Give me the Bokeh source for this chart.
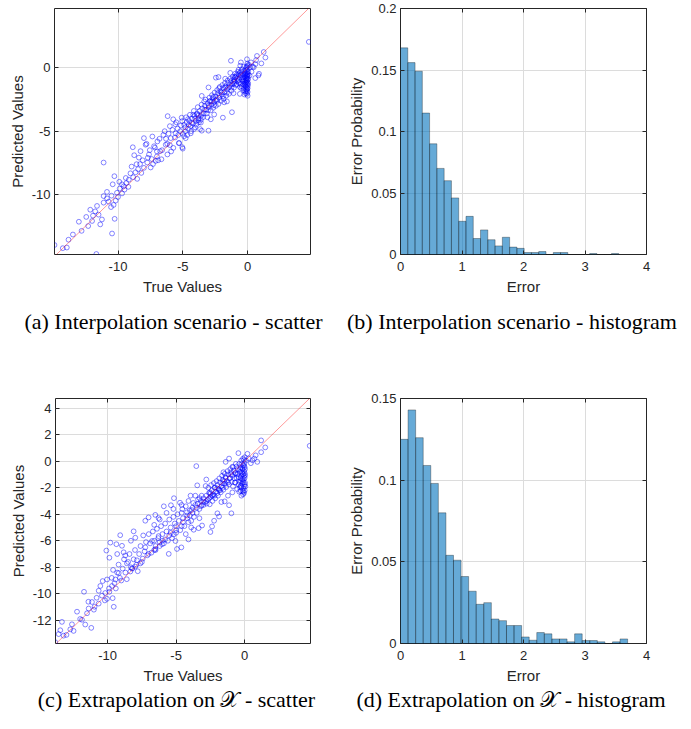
from bokeh.plotting import figure
from bokeh.layouts import column, row
from bokeh.models import Div, FixedTicker, LinearAxis, Slope, CustomJSTickFormatter
from bokeh.embed import file_html
from bokeh.resources import INLINE

# ---------------- data ----------------
# (a) interpolation scatter: (true value, predicted value)
points_a = [
    (4.72, 2.06), (1.24, 1.26), (1.37, 0.82), (1.06, 0.36), (0.72, 0.95), (0.65, 0.62), (0.88, -0.46),
    (0.59, -0.8), (0.83, -0.59), (0.47, 0.05), (0.26, 0.44), (0.39, 0.1), (0.3, -0.3), (0.15, -0.6),
    (0.2, 0.05), (0.6, 0.3), (0.1, 0.25), (-0.05, 0.69), (-0.52, 0.44), (-0.57, 0.18), (-1.29, 0.57),
    (-0.02, 0.35), (-0.05, 0.1), (0.0, -0.1), (-0.1, -0.2), (-0.03, -0.35), (-0.15, -0.4), (0.02, -0.5),
    (-0.08, -0.6), (-0.2, -0.55), (0.0, -0.7), (-0.05, -0.8), (-0.12, -0.85), (-0.25, -0.7), (0.01, -0.95),
    (-0.07, -1.05), (-0.18, -1.0), (-0.3, -0.9), (0.0, -1.15), (-0.1, -1.2), (-0.04, -1.3), (-0.22, -1.25),
    (0.02, -1.4), (-0.08, -1.5), (-0.15, -1.45), (0.0, -1.6), (-0.05, -1.75), (-0.12, -1.7), (0.0, -1.9),
    (-0.05, -2.05), (0.0, -2.2), (-0.2, -1.85), (-0.28, -1.6), (-0.35, -1.3), (-0.4, -1.05), (-0.02, 0.2),
    (-0.1, 0.05), (-0.25, -0.25), (-0.35, -0.5), (-0.18, -1.36), (-0.5, -1.6), (-0.6, -2.05),
    (-0.3, 0.1), (-0.45, -0.1), (-0.6, -0.35), (-0.15, -0.1), (-0.38, -0.75), (-0.48, -0.55),
    (-0.68, -0.95), (-0.55, -1.25), (-0.75, -1.05), (-0.9, -1.35), (-0.32, -1.75), (-0.45, -1.45),
    (-0.6, -1.5), (-0.15, -2.0), (-0.25, -2.1), (-0.1, -1.85), (-0.22, -0.45), (-0.06, -0.48),
    (-0.14, -0.72), (-0.09, -0.95), (-0.16, -1.15), (-0.28, -1.05), (-0.03, -1.62), (-0.02, -0.6),
    (0.05, -0.3), (0.03, -0.85), (0.04, -1.25), (-0.7, -0.15), (-0.85, -0.55), (-1.0, -0.7),
    (-0.5, -0.3), (-0.6, -0.75), (-0.7, -0.5), (-0.8, -0.85), (-0.9, -0.7), (-1.0, -1.1), (-1.1, -0.9),
    (-1.2, -1.3), (-1.3, -1.05), (-1.4, -1.5), (-1.5, -1.2), (-1.6, -1.7), (-1.7, -1.45), (-1.8, -1.9),
    (-1.9, -1.6), (-2.0, -2.1), (-2.1, -1.85), (-2.2, -2.35), (-2.3, -2.0), (-2.4, -2.5), (-2.5, -2.25),
    (-2.6, -2.7), (-2.7, -2.4), (-2.8, -2.9), (-2.9, -2.6), (-3.0, -3.1), (-0.45, -0.9), (-0.65, -1.2),
    (-0.85, -1.3), (-1.05, -1.55), (-1.25, -1.8), (-1.45, -2.05), (-1.65, -2.2), (-1.85, -2.45),
    (-2.05, -2.6), (-2.25, -2.85), (-2.45, -3.0), (-2.65, -3.15), (-2.85, -3.35), (-0.75, -0.3),
    (-0.95, -0.45), (-1.15, -0.7), (-1.35, -0.85), (-1.55, -1.0), (-1.75, -1.2), (-1.95, -1.35),
    (-2.15, -1.5), (-2.35, -1.75), (-2.55, -1.95), (-2.75, -2.15), (-2.95, -2.35), (-0.55, -0.55),
    (-1.0, -0.95), (-1.5, -1.55), (-2.0, -1.95), (-2.5, -2.55), (-3.0, -2.95), (-1.09, -1.1),
    (-1.34, -0.39), (-1.73, -0.85), (-2.25, -0.72), (-2.45, -0.77), (-1.09, -2.0), (-1.21, -3.5),
    (-1.91, -3.93), (-1.6, -2.65), (-1.81, -2.72), (-3.02, -1.54), (-3.54, -2.21),
    (-1.05, -1.25), (-1.35, -1.35), (-1.6, -1.95), (-1.9, -2.25), (-2.15, -2.15), (-2.35, -2.6),
    (-2.6, -2.95), (-2.75, -2.65), (-3.05, -3.35), (-3.3, -3.3), (-3.55, -3.65), (-3.8, -3.75),
    (-4.05, -4.0), (-4.3, -4.35), (-4.55, -4.5), (-4.8, -4.7), (-3.1, -3.9), (-3.6, -4.1), (-4.2, -3.7),
    (-4.6, -4.05), (-3.35, -2.65), (-2.2, -1.6), (-1.75, -1.55), (-1.25, -1.55), (-0.95, -0.75),
    (-2.65, -2.3), (-3.95, -4.45), (-4.9, -5.4), (-5.15, -4.55), (-5.35, -5.3),
    (-3.1, -2.8), (-3.2, -3.3), (-3.3, -3.0), (-3.4, -3.6), (-3.5, -3.2), (-3.6, -3.8), (-3.7, -3.4),
    (-3.8, -4.0), (-3.9, -3.6), (-4.0, -4.2), (-4.1, -3.8), (-4.2, -4.4), (-4.3, -4.0), (-4.4, -4.6),
    (-4.5, -4.2), (-4.6, -4.8), (-4.7, -4.3), (-4.8, -5.0), (-4.9, -4.5), (-5.0, -5.2), (-3.15, -3.6),
    (-3.45, -3.9), (-3.75, -4.3), (-4.05, -4.7), (-4.35, -5.0), (-4.65, -5.3), (-3.25, -2.5),
    (-3.55, -2.9), (-3.85, -3.1), (-4.15, -3.4), (-4.45, -3.7), (-4.75, -3.9), (-5.05, -4.2),
    (-3.02, -4.96), (-3.54, -4.96), (-3.67, -4.83), (-3.93, -3.68), (-3.8, -4.14), (-2.84, -4.06),
    (-2.58, -3.68), (-3.61, -4.32), (-4.13, -4.83), (-5.09, -3.93), (-5.74, -4.06), (-6.17, -3.81),
    (-5.58, -4.45), (-5.01, -6.38), (-2.9, -2.65),
    (-5.2, -5.0), (-5.3, -5.94), (-5.4, -4.8), (-5.55, -5.17), (-5.6, -5.5), (-5.73, -6.32), (-5.8, -4.9),
    (-5.93, -5.55), (-6.0, -6.1), (-6.1, -5.2), (-6.19, -6.84), (-6.32, -6.07), (-6.4, -5.0), (-6.5, -5.3),
    (-6.6, -6.5), (-6.65, -7.22), (-6.75, -6.58), (-6.8, -5.6), (-6.96, -5.81), (-7.0, -7.0), (-7.09, -7.35),
    (-7.15, -6.3), (-7.22, -6.19), (-7.35, -5.42), (-7.4, -7.2), (-7.48, -7.87), (-7.55, -6.5), (-7.61, -6.84),
    (-7.74, -7.48), (-7.8, -6.0), (-7.87, -6.07), (-8.0, -5.55), (-8.0, -7.9), (-8.1, -7.3), (-8.2, -8.3),
    (-8.26, -6.58), (-8.39, -7.09), (-8.45, -8.0), (-8.52, -8.77), (-8.57, -7.61), (-8.65, -8.25),
    (-8.75, -6.9), (-8.83, -8.64), (-8.86, -6.27), (-8.95, -7.8), (-9.04, -8.33), (-9.17, -8.84),
    (-5.29, -5.94), (-4.78, -5.55), (-4.39, -5.17), (-5.04, -6.27), (-6.0, -4.6), (-5.5, -4.3),
    (-6.3, -5.6), (-7.0, -6.6), (-7.7, -7.1), (-8.3, -7.6), (-6.9, -7.3), (-6.2, -6.0), (-5.9, -6.6),
    (-7.3, -7.6),
    (-9.35, -9.1), (-9.5, -9.62), (-9.56, -9.36), (-9.69, -9.92), (-9.87, -9.54), (-10.08, -9.87),
    (-10.18, -10.49), (-10.34, -10.83), (-10.54, -11.0), (-10.72, -10.57), (-10.85, -10.31),
    (-10.85, -9.8), (-11.11, -10.13), (-11.11, -10.65), (-9.2, -9.4), (-9.7, -9.2), (-10.0, -10.2),
    (-10.5, -10.1), (-9.4, -8.7), (-9.9, -9.0), (-11.11, -7.48), (-10.28, -8.56), (-10.41, -9.2),
    (-10.46, -13.09), (-10.26, -11.93),
    (-11.24, -11.98), (-11.37, -12.37), (-11.62, -10.91), (-11.76, -11.34), (-11.93, -11.68),
    (-12.14, -11.21), (-12.45, -11.78), (-12.81, -12.88), (-13.02, -12.16), (-13.48, -13.17),
    (-13.82, -13.58), (-13.95, -14.2), (-14.26, -14.25), (-14.9, -14.0), (-11.67, -14.71),
    (-11.5, -11.6), (-12.0, -12.1), (-12.3, -12.5),
]

# (c) extrapolation scatter: (true value, predicted value)
points_c = [
    (4.74, 1.16), (1.2, 1.57), (1.5, 1.04), (1.2, 0.68), (0.8, 0.44), (0.56, 0.07), (0.92, -0.05),
    (0.2, 0.56), (-0.46, 0.61), (-1.14, 0.2), (-1.39, -0.05), (-0.9, -0.42), (-3.53, -0.37),
    (-1.55, -0.83), (-1.39, -1.26), (-0.7, -1.62), (-0.29, -1.87), (-0.24, -2.6), (-0.29, -2.23),
    (-0.9, -2.35), (-1.22, -2.6), (-1.7, -3.08), (-1.87, -2.18), (-2.8, -1.38), (-2.85, -1.87),
    (-3.14, -2.6), (-3.46, -1.82), (-2.33, -2.6), (-1.14, -3.32), (-0.97, -3.93), (-1.46, -3.03),
    (-1.99, -3.93), (-1.87, -4.17), (-2.23, -4.49), (-3.95, -2.6), (-5.16, -2.79), (-5.38, -3.32),
    (-4.72, -3.13), (-4.55, -3.61), (-4.21, -3.85), (-3.87, -3.68), (-3.75, -3.15), (-3.14, -3.32),
    (-2.77, -3.2), (-3.29, -2.79), (-2.53, -2.35), (-2.16, -1.99), (-1.63, -1.67), (-1.07, -1.26),
    (-0.66, -0.9), (-0.17, -0.53), (-0.05, -1.14), (0.02, -1.62), (-6.52, -4.05), (-6.28, -4.29),
    (-7.01, -4.24), (-7.25, -4.49),
    (0.0, 0.3), (-0.05, 0.1), (-0.02, -0.15), (-0.1, -0.3), (0.0, -0.45), (-0.15, -0.6), (-0.05, -0.75),
    (0.0, -0.9), (-0.2, -0.85), (-0.1, -1.0), (-0.25, -1.1), (0.0, -1.25), (-0.08, -1.35), (-0.3, -1.3),
    (-0.15, -1.5), (0.0, -1.75), (-0.05, -1.9), (-0.2, -1.7), (-0.1, -2.05), (0.0, -2.2), (-0.05, -2.4),
    (-0.35, -1.95), (-0.4, -1.55), (-0.45, -1.2), (-0.35, -0.8), (-0.3, -0.45), (-0.12, 0.2),
    (-0.25, 0.05), (-0.4, -0.2), (0.3, 0.2), (0.45, -0.15), (0.7, 0.2), (0.1, 0.05), (-0.15, -2.25),
    (-0.2, -0.2), (-0.35, -0.6), (-0.5, -0.95), (-0.6, -1.25), (-0.2, -1.35), (-0.1, -1.6), (-0.25, -1.95),
    (-0.08, -2.3), (0.02, -0.6), (0.03, -1.05), (-0.45, -1.75), (-0.55, -2.1), (-0.7, -1.6), (-0.85, -1.9),
    (-0.15, -0.95), (-0.3, -1.5), (-0.05, -0.35), (0.05, -1.9), (-0.12, -2.5), (-0.4, -2.3),
    (-0.5, -0.6), (-0.6, -0.4), (-0.7, -0.9), (-0.8, -0.7), (-0.9, -1.1), (-1.0, -0.85), (-1.1, -1.3),
    (-1.2, -1.0), (-1.3, -1.5), (-1.4, -1.2), (-1.5, -1.7), (-1.6, -1.4), (-1.7, -1.9), (-1.8, -1.6),
    (-1.9, -2.1), (-2.0, -1.8), (-2.1, -2.3), (-2.2, -2.0), (-2.3, -2.5), (-2.4, -2.2), (-2.5, -2.7),
    (-2.6, -2.4), (-2.7, -2.9), (-2.8, -2.6), (-2.9, -3.1), (-3.0, -2.8), (-0.55, -1.0), (-0.75, -1.3),
    (-0.95, -1.55), (-1.15, -1.75), (-1.35, -1.95), (-1.55, -2.15), (-1.75, -2.35), (-1.95, -2.6),
    (-2.15, -2.8), (-2.35, -3.0), (-2.55, -3.25), (-0.65, -0.2), (-0.85, -0.45), (-1.05, -0.6),
    (-1.25, -0.75), (-1.45, -0.95), (-1.65, -1.1), (-1.85, -1.3), (-2.05, -1.5), (-2.25, -1.65),
    (-2.45, -1.8), (-2.65, -2.0), (-1.0, -1.0), (-1.5, -1.5), (-2.0, -2.05), (-2.5, -2.45), (-3.0, -3.05),
    (-1.2, -1.6), (-1.6, -2.0), (-2.0, -2.4), (-2.4, -2.6), (-2.8, -3.0), (-3.2, -3.4), (-1.4, -1.7),
    (-1.8, -2.2), (-2.2, -2.6), (-2.6, -2.8), (-3.0, -3.3), (-3.4, -3.2), (-3.8, -3.9), (-4.2, -4.3),
    (-4.6, -4.9), (-5.0, -5.2), (-5.4, -5.4), (-5.8, -5.9), (-6.2, -6.1), (-6.6, -6.7),
    (-3.2, -3.0), (-3.3, -3.6), (-3.4, -2.9), (-3.5, -3.9), (-3.6, -3.3), (-3.7, -4.2), (-3.8, -3.5),
    (-3.9, -4.5), (-4.0, -3.7), (-4.1, -4.6), (-4.2, -4.1), (-4.3, -3.4), (-4.4, -4.9), (-4.5, -4.3),
    (-4.6, -3.9), (-4.7, -5.2), (-4.8, -4.5), (-4.9, -4.0), (-5.0, -5.4), (-5.1, -4.7), (-5.2, -4.2),
    (-5.3, -5.8), (-5.4, -5.0), (-5.5, -4.4), (-5.6, -6.0), (-5.7, -5.3), (-5.8, -4.7), (-5.9, -6.2),
    (-6.0, -5.5), (-6.1, -4.9), (-6.2, -6.4), (-6.3, -5.8), (-6.4, -5.1), (-6.5, -6.7), (-6.6, -6.0),
    (-6.7, -5.3), (-6.8, -6.9), (-6.9, -6.2), (-7.0, -5.5), (-3.5, -3.5), (-4.0, -4.1), (-4.5, -4.6),
    (-5.0, -4.9), (-5.5, -5.6), (-6.0, -6.0), (-6.5, -6.4), (-3.6, -2.6), (-4.1, -3.0), (-4.6, -3.3),
    (-5.2, -3.6), (-5.7, -3.9), (-6.2, -4.4), (-3.9, -5.0), (-4.3, -5.5), (-4.1, -5.9), (-3.3, -4.3),
    (-6.6, -4.8), (-5.9, -3.4),
    (-2.5, -5.34), (-2.38, -4.92), (-3.11, -4.85), (-3.36, -5.05), (-3.72, -5.17), (-4.94, -6.62),
    (-4.62, -6.5), (-5.54, -6.99), (-5.05, -6.02), (-5.18, -5.53), (-6.03, -6.26), (-6.28, -5.65),
    (-6.52, -6.62), (-6.76, -6.02), (-7.01, -6.99), (-7.25, -6.5), (-7.44, -7.35), (-7.61, -7.71),
    (-7.86, -7.47), (-7.98, -7.95), (-8.22, -8.08), (-8.34, -8.32), (-8.59, -7.71), (-8.71, -7.11),
    (-8.83, -6.87), (-8.95, -6.38), (-7.98, -5.77), (-8.1, -5.29), (-9.08, -5.58), (-9.8, -6.14),
    (-10.09, -6.74), (-9.87, -7.28), (-9.36, -6.26), (-9.19, -8.44), (-9.43, -8.92), (-9.68, -9.41),
    (-9.87, -9.85), (-10.04, -8.92), (-10.36, -9.04), (-10.53, -9.41), (-10.65, -9.77), (-10.41, -10.14),
    (-10.17, -9.94), (-10.04, -10.38), (-9.63, -10.33), (-9.55, -10.98), (-11.72, -9.85), (-11.14, -10.62),
    (-10.95, -10.98), (-10.65, -10.74), (-11.38, -11.11), (-11.5, -11.47), (-11.87, -11.96),
    (-11.63, -12.32), (-11.19, -12.57), (-12.23, -11.35), (-12.48, -12.8), (-12.72, -12.68),
    (-13.33, -12.12), (-13.45, -12.75), (-13.57, -13.04), (-13.21, -13.16), (-13.82, -13.65),
    (-7.1, -7.1), (-7.3, -6.8), (-7.5, -7.6), (-7.7, -7.0), (-7.9, -7.8), (-8.1, -7.4), (-8.3, -8.0),
    (-8.5, -7.6), (-8.7, -8.4), (-8.9, -8.1), (-9.1, -8.8), (-9.3, -8.4), (-9.5, -9.2), (-9.7, -8.8),
    (-9.9, -9.6), (-7.2, -6.1), (-7.6, -6.4), (-8.0, -6.7), (-8.4, -7.0), (-8.8, -7.4), (-9.2, -7.8),
    (-9.6, -8.2), (-7.4, -5.6), (-8.3, -6.0), (-9.3, -7.0), (-7.8, -8.3), (-8.6, -8.9), (-9.4, -9.6),
    (-8.2, -8.1), (-9.0, -9.0), (-10.2, -10.5), (-10.8, -10.3), (-11.0, -11.2), (-11.4, -10.6),
    (-12.0, -11.9), (-12.6, -12.3), (-13.0, -13.1),
]

# (b) / (d) error histograms: probability per bin (30 bins from 0)
hist_b = [0.168, 0.156, 0.149, 0.115, 0.090, 0.070, 0.060, 0.046, 0.027, 0.031,
          0.013, 0.020, 0.012, 0.007, 0.014, 0.006, 0.005, 0.0016, 0.0016, 0.0024,
          0.0, 0.0016, 0.0016, 0.0, 0.0, 0.0, 0.0008, 0.0, 0.0, 0.0008]
bin_width_b = 0.1183
hist_d = [0.125, 0.143, 0.126, 0.109, 0.098, 0.080, 0.054, 0.051, 0.041, 0.032,
          0.024, 0.025, 0.015, 0.014, 0.011, 0.011, 0.004, 0.002, 0.0067, 0.0059,
          0.0028, 0.0028, 0.001, 0.0059, 0.0018, 0.0018, 0.001, 0.0, 0.001, 0.0028]
bin_width_d = 0.1231

captions = [
    "(a) Interpolation scenario - scatter",
    "(b) Interpolation scenario - histogram",
    "(c) Extrapolation on \U0001D4B3 - scatter",
    "(d) Extrapolation on \U0001D4B3 - histogram",
]

ticks_a = [-10, -5, 0]
ticks_c_x = [-10, -5, 0]
ticks_c_y = [-12, -10, -8, -6, -4, -2, 0, 2, 4]
ticks_hist_x = [0, 1, 2, 3, 4]
ticks_b_y = [0, 0.05, 0.1, 0.15, 0.2]
ticks_d_y = [0, 0.05, 0.1, 0.15]

# ---------------- styling ----------------
DARK = "#262626"
SANS = "Liberation Sans"
TICK_FS = "13px"
LABEL_FS = "15px"
fmt = CustomJSTickFormatter(code="return String(Math.round(tick*1000)/1000)")


def style(p, xticks, yticks, xlabel, ylabel):
    p.outline_line_color = DARK
    p.outline_line_width = 1
    p.background_fill_color = "white"
    p.border_fill_color = "white"
    p.xaxis.ticker = FixedTicker(ticks=xticks)
    p.yaxis.ticker = FixedTicker(ticks=yticks)
    p.xgrid.ticker = FixedTicker(ticks=xticks)
    p.ygrid.ticker = FixedTicker(ticks=yticks)
    p.grid.grid_line_color = "#dcdcdc"
    p.grid.grid_line_width = 1
    p.xaxis.axis_label = xlabel
    p.yaxis.axis_label = ylabel
    for ax in p.xaxis + p.yaxis:
        ax.formatter = fmt
        ax.axis_line_color = None
        ax.major_tick_in = 4
        ax.major_tick_out = 0
        ax.major_tick_line_color = DARK
        ax.minor_tick_line_color = None
        ax.major_label_text_font = SANS
        ax.major_label_text_font_size = TICK_FS
        ax.major_label_text_color = DARK
        ax.axis_label_text_font = SANS
        ax.axis_label_text_font_size = LABEL_FS
        ax.axis_label_text_font_style = "normal"
        ax.axis_label_text_color = DARK
        ax.major_label_standoff = 4
        ax.axis_label_standoff = 3
    for ax in p.xaxis:
        ax.major_label_standoff = 7
        ax.axis_label_standoff = 4
    # inward tick marks on the top and right edges of the box (no labels there)
    for loc, ticks in (("above", xticks), ("right", yticks)):
        extra = LinearAxis(ticker=FixedTicker(ticks=ticks), major_label_text_font_size="1px",
                           major_label_text_color=None, major_label_standoff=0,
                           major_tick_in=4, major_tick_out=0,
                           major_tick_line_color=DARK, minor_tick_line_color=None,
                           axis_line_color=None)
        p.add_layout(extra, loc)


def scatter_panel(points, xr, yr, xticks, yticks, width, height, mbl, mbr, mbt, mbb):
    p = figure(width=width, height=height, x_range=xr, y_range=yr, output_backend="svg",
               toolbar_location=None, min_border_left=mbl, min_border_right=mbr,
               min_border_top=mbt, min_border_bottom=mbb)
    xs = [pt[0] for pt in points]
    ys = [pt[1] for pt in points]
    p.add_layout(Slope(gradient=1, y_intercept=0, line_color="red", line_alpha=0.4, line_width=1))
    p.scatter(xs, ys, marker="circle", size=4.8, fill_color=None, line_color="blue",
              line_alpha=0.6, line_width=0.8)
    style(p, xticks, yticks, "True Values", "Predicted Values")
    return p


def hist_panel(probs, bw, yr, yticks, width, height, mbl, mbr, mbt, mbb):
    p = figure(width=width, height=height, x_range=(0, 4), y_range=yr, output_backend="svg",
               toolbar_location=None, min_border_left=mbl, min_border_right=mbr,
               min_border_top=mbt, min_border_bottom=mbb)
    left = [k * bw for k in range(len(probs))]
    right = [(k + 1) * bw for k in range(len(probs))]
    p.quad(left=left, right=right, bottom=0, top=probs, fill_color="#0072BD", fill_alpha=0.6,
           line_color="black", line_alpha=0.45, line_width=0.7)
    style(p, ticks_hist_x, yticks, "Error", "Error Probability")
    return p


def caption_div(text, width, height, pad_top, shift):
    html = ('<div style="width:%dpx;text-align:center;padding-top:%dpx;'
            'font-family:\'Liberation Serif\',\'DejaVu Serif\',serif;font-size:22px;line-height:24px;'
            'color:black;position:relative;left:%dpx;white-space:nowrap">%s</div>'
            % (width, pad_top, shift, text))
    return Div(text=html, width=width, height=height, margin=0)


pa = scatter_panel(points_a, (-14.9, 4.85), (-14.75, 4.7), ticks_a, ticks_a,
                   345, 300, 54, 35, 5, 43)
pb = hist_panel(hist_b, bin_width_b, (0, 0.2), ticks_b_y, 330, 300, 54, 29, 8, 46)
pc = scatter_panel(points_c, (-13.8, 4.8), (-13.75, 4.73), ticks_c_x, ticks_c_y,
                   345, 326, 55, 35, 35, 38)
pd = hist_panel(hist_d, bin_width_d, (0, 0.15), ticks_d_y, 330, 326, 54, 29, 38, 41)

cap_row1 = row(caption_div(captions[0], 345, 60, 10, 1), caption_div(captions[1], 330, 60, 10, 2),
               spacing=0)
cap_row2 = row(caption_div(captions[2], 345, 27, 2, 4), caption_div(captions[3], 330, 27, 2, 1),
               spacing=0)

layout = column(row(pa, pb, spacing=0), cap_row1, row(pc, pd, spacing=0), cap_row2, spacing=0)

open("out.html", "w").write(file_html(layout, INLINE))
